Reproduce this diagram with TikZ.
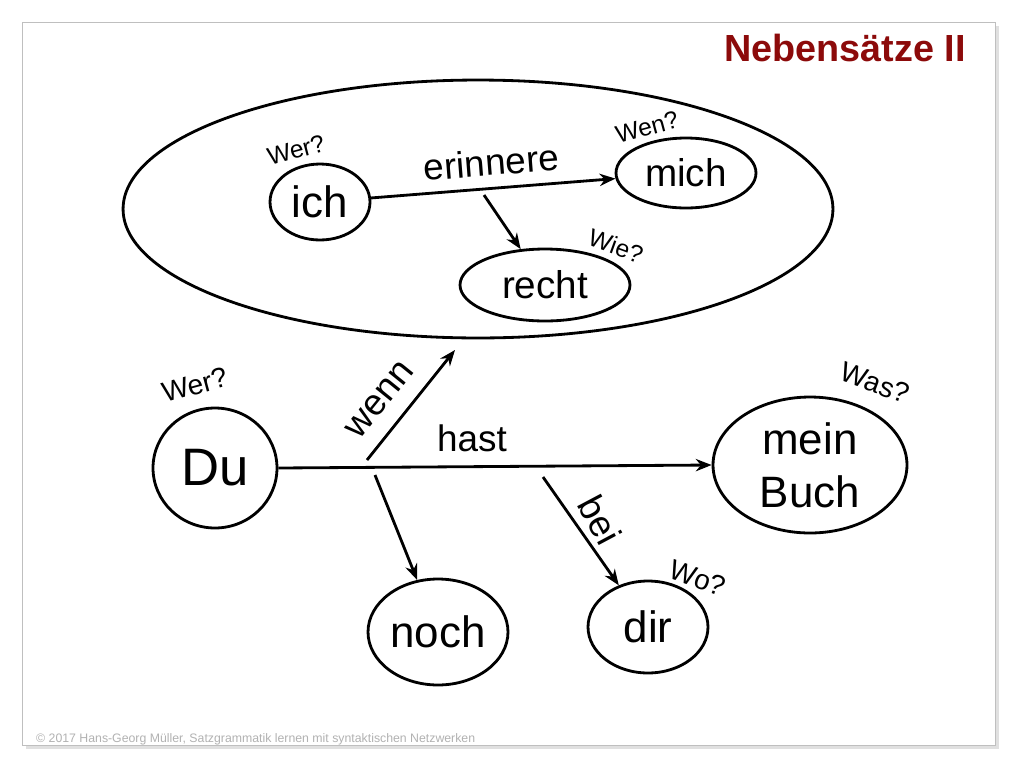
\documentclass[tikz,border=0pt]{standalone}
\usepackage{fontspec}
\setmainfont{Liberation Sans}
\usetikzlibrary{shapes.geometric,arrows.meta}
\definecolor{titlered}{RGB}{140,10,10}
\begin{document}
\begin{tikzpicture}[x=0.02cm,y=-0.02cm,
  ell/.style={draw,ellipse,line width=1.6pt,inner sep=0pt},
  arr/.style={line width=1.6pt,-{Stealth[length=9pt,width=7pt]}},
  q/.style={font=\fontsize{14}{14}\selectfont},
  lab/.style={font=\fontsize{21}{21}\selectfont}]
\useasboundingbox (0,0) rectangle (1024,768);
\fill[white] (0,0) rectangle (1024,768);
\fill[black!12] (26,26) rectangle (999,749);
\draw[black!25,fill=white] (22,22) rectangle (995,745);
\node[font=\bfseries\fontsize{21.5}{22}\selectfont,text=titlered,anchor=east] (title) at (972,48) {Nebensätze II};
\node[ell,minimum width=14.2cm,minimum height=5.16cm] (big) at (478,209) {};
\node[ell,minimum width=2cm,minimum height=1.52cm,font=\fontsize{25}{25}\selectfont] (ich) at (320,202) {ich};
\node[ell,minimum width=2.8cm,minimum height=1.4cm,font=\fontsize{22}{22}\selectfont] (mich) at (686,173) {mich};
\node[ell,minimum width=3.4cm,minimum height=1.44cm,font=\fontsize{22}{22}\selectfont] (recht) at (545,285) {recht};
\draw[arr] (ich) -- (mich) node[pos=0.5,above=3pt,sloped,lab] (erinnere) {erinnere};
\coordinate (e1) at (484,195);
\draw[arr] (e1) -- (recht);
\node[q,rotate=15] (w1) at (296,150) {Wer?};
\node[q,rotate=15] (w2) at (647,127) {Wen?};
\node[q,rotate=-20] (w3) at (616,246) {Wie?};
\node[ell,minimum width=2.48cm,minimum height=2.4cm,font=\fontsize{30}{30}\selectfont] (du) at (215,468) {Du};
\node[ell,minimum width=3.88cm,minimum height=2.72cm,font=\fontsize{25}{30}\selectfont,align=center] (buch) at (810,465) {mein\\Buch};
\node[ell,minimum width=2.8cm,minimum height=2.12cm,font=\fontsize{25}{25}\selectfont] (noch) at (438,632) {noch};
\node[ell,minimum width=2.4cm,minimum height=1.84cm,font=\fontsize{25}{25}\selectfont] (dir) at (648,627) {dir};
\draw[arr] (du.east) -- (buch.west);
\node[lab] (hast) at (472,438) {hast};
\coordinate (a1) at (367,460); \coordinate (a2) at (455,350);
\draw[arr] (a1) -- (a2);
\node[lab,rotate=51] (wenn) at (380,400) {wenn};
\coordinate (b1) at (375,475);
\draw[arr] (b1) -- (noch);
\coordinate (c1) at (543,477);
\draw[arr] (c1) -- (dir);
\node[lab,rotate=-62] (bei) at (600,520) {bei};
\node[q,font=\fontsize{16}{16}\selectfont,rotate=15] (w4) at (195,385) {Wer?};
\node[q,font=\fontsize{16}{16}\selectfont,rotate=-20] (w5) at (875,383) {Was?};
\node[q,font=\fontsize{16}{16}\selectfont,rotate=-20] (w6) at (698,578) {Wo?};
\node[anchor=west,text=black!30,font=\fontsize{7}{7}\selectfont] (foot) at (30,739) {© 2017 Hans-Georg Müller, Satzgrammatik lernen mit syntaktischen Netzwerken};
\end{tikzpicture}
\end{document}
